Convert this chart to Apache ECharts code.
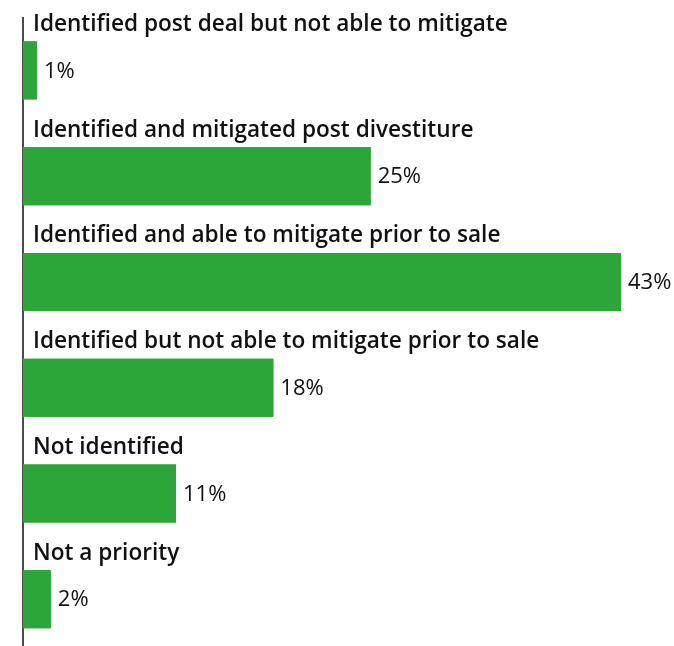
<!DOCTYPE html>
<html>
<head>
<meta charset="utf-8">
<script src="https://cdn.jsdelivr.net/npm/echarts@6/dist/echarts.min.js"></script>
<style>
  html, body { margin: 0; padding: 0; background: #fff; }
  #myChart { width: 674px; height: 646px; }
</style>
</head>
<body>
<div id="myChart"></div>
<script>
// categories, top to bottom
var categories = [
  "Identified post deal but not able to mitigate",
  "Identified and mitigated post divestiture",
  "Identified and able to mitigate prior to sale",
  "Identified but not able to mitigate prior to sale",
  "Not identified",
  "Not a priority"
];
var values = [1, 25, 43, 18, 11, 2];

var barColor = "#2ca639";

var myChart = echarts.init(document.getElementById("myChart"));
myChart.setOption({
  animation: false,
  grid: { left: 23, top: 17.5, width: 598, height: 634.5, outerBoundsMode: "none" },
  xAxis: {
    type: "value",
    min: 0,
    max: 43,
    show: false
  },
  yAxis: {
    type: "category",
    inverse: true,
    data: categories,
    axisLine: { show: true, lineStyle: { color: "#111", width: 1.5 } },
    axisTick: { show: false },
    axisLabel: { show: false }
  },
  series: [
    {
      // bars + category name above each bar
      type: "bar",
      data: values,
      barWidth: 58,
      itemStyle: { color: barColor },
      label: {
        show: true,
        position: [10, -17],
        verticalAlign: "middle",
        align: "left",
        formatter: "{b}",
        fontFamily: "Open Sans",
        fontWeight: 600,
        fontSize: 22.6,
        color: "#111"
      }
    },
    {
      // value labels at the bar end
      type: "bar",
      data: values,
      barWidth: 58,
      barGap: "-100%",
      itemStyle: { color: barColor },
      label: {
        show: true,
        position: "right",
        distance: 7,
        offset: [0, 1],
        formatter: "{c}%",
        fontFamily: "Open Sans",
        fontSize: 22,
        color: "#111"
      }
    }
  ]
});
</script>
</body>
</html>
